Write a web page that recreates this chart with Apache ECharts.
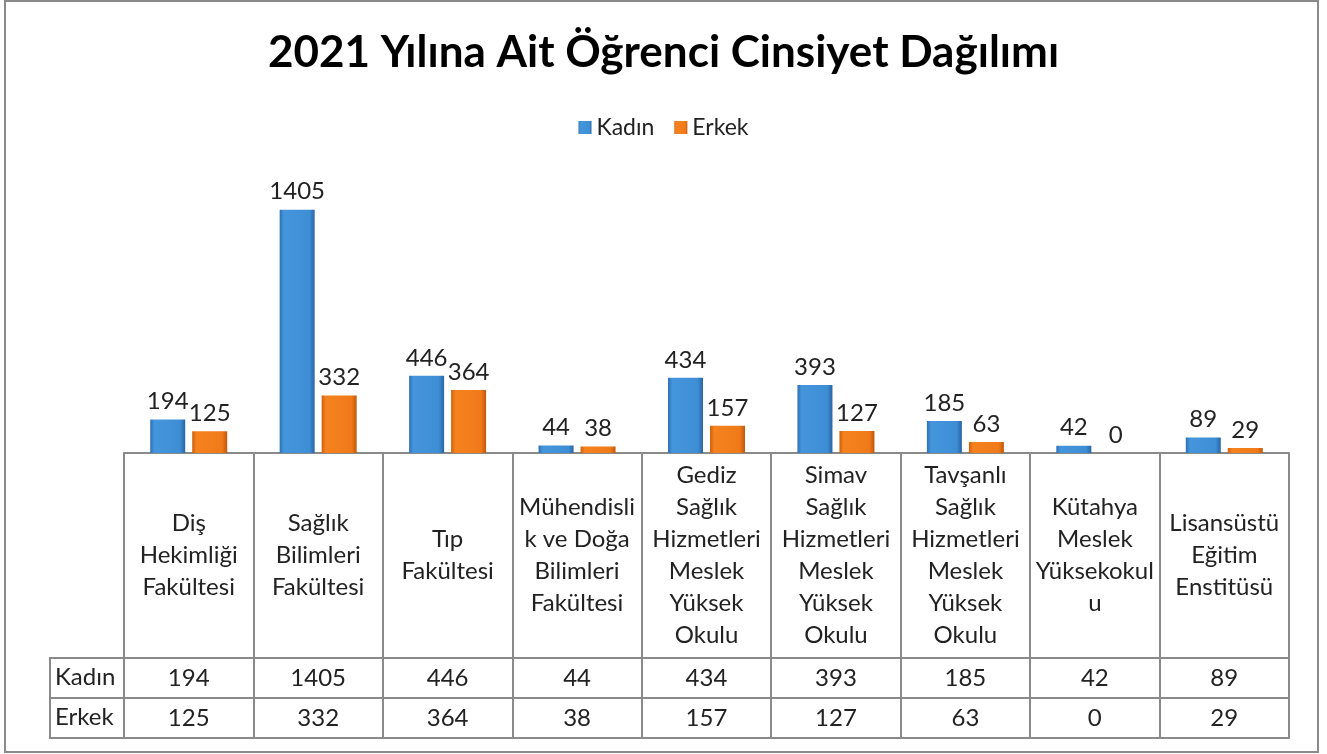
<!DOCTYPE html>
<html>
<head>
<meta charset="utf-8">
<script src="https://cdn.jsdelivr.net/npm/echarts@6/dist/echarts.min.js"></script>
<style>
  html, body { margin: 0; padding: 0; background: #fff; }
  #chart { width: 1327px; height: 754px; }
</style>
</head>
<body>
<div id="chart"></div>
<script>
// categories as wrapped in the table header cells
const categories = [
  'Diş\nHekimliği\nFakültesi',
  'Sağlık\nBilimleri\nFakültesi',
  'Tıp\nFakültesi',
  'Mühendisli\nk ve Doğa\nBilimleri\nFakültesi',
  'Gediz\nSağlık\nHizmetleri\nMeslek\nYüksek\nOkulu',
  'Simav\nSağlık\nHizmetleri\nMeslek\nYüksek\nOkulu',
  'Tavşanlı\nSağlık\nHizmetleri\nMeslek\nYüksek\nOkulu',
  'Kütahya\nMeslek\nYüksekokul\nu',
  'Lisansüstü\nEğitim\nEnstitüsü'
];
const kadin = [194, 1405, 446, 44, 434, 393, 185, 42, 89];
const erkek = [125, 332, 364, 38, 157, 127, 63, 0, 29];
const seriesNames = ['Kadın', 'Erkek'];

const FONT = 'Lato, "Noto Sans", sans-serif';
const LINE = '#8a8a8a';

const chart = echarts.init(document.getElementById('chart'));

// bevelled bar look (approximation of the excel 3d bar)
const blueGrad = new echarts.graphic.LinearGradient(0, 0, 1, 0, [
  { offset: 0, color: '#2f6fb3' },
  { offset: 0.12, color: '#4496dc' },
  { offset: 0.85, color: '#3e8ed6' },
  { offset: 1, color: '#2a64a3' }
]);
const orangeGrad = new echarts.graphic.LinearGradient(0, 0, 1, 0, [
  { offset: 0, color: '#cf600c' },
  { offset: 0.12, color: '#f6821f' },
  { offset: 0.85, color: '#f07a19' },
  { offset: 1, color: '#c2580a' }
]);

const labelStyle = {
  show: true,
  position: 'top',
  distance: 6,
  fontFamily: FONT,
  fontSize: 24,
  color: '#222'
};

const option = {
  backgroundColor: '#fff',
  animation: false,
  title: {
    text: '2021 Yılına Ait Öğrenci Cinsiyet Dağılımı',
    left: 'center',
    top: 26,
    textStyle: { fontFamily: FONT, fontSize: 44, fontWeight: 'bold', color: '#000' }
  },
  legend: {
    data: seriesNames,
    top: 111,
    left: 'center',
    icon: 'rect',
    itemWidth: 13,
    itemHeight: 13,
    itemGap: 20,
    textStyle: { fontFamily: FONT, fontSize: 23, color: '#222' }
  },
  grid: {
    left: 124,
    right: 38,
    top: 176,
    bottom: 301,
    outerBoundsMode: 'none'
  },
  xAxis: [
    {
      type: 'category',
      data: categories,
      position: 'bottom',
      axisLine: { show: true, lineStyle: { color: LINE, width: 2 } },
      axisTick: { show: true, length: 285, lineStyle: { color: LINE, width: 2 } },
      axisLabel: {
        interval: 0,
        margin: 102,
        verticalAlign: 'middle',
        lineHeight: 32,
        fontFamily: FONT,
        fontSize: 24,
        color: '#222'
      }
    },
    {
      type: 'category',
      data: kadin.map(String),
      position: 'bottom',
      offset: 205,
      axisLine: { show: true, lineStyle: { color: LINE, width: 2 } },
      axisTick: { show: false },
      axisLabel: {
        interval: 0, margin: 20, verticalAlign: 'middle',
        fontFamily: FONT, fontSize: 24, color: '#222'
      }
    },
    {
      type: 'category',
      data: erkek.map(String),
      position: 'bottom',
      offset: 245,
      axisLine: { show: true, lineStyle: { color: LINE, width: 2 } },
      axisTick: { show: false },
      axisLabel: {
        interval: 0, margin: 20, verticalAlign: 'middle',
        fontFamily: FONT, fontSize: 24, color: '#222'
      }
    },
    {
      type: 'category',
      data: categories,
      position: 'bottom',
      offset: 285,
      axisLine: { show: true, lineStyle: { color: LINE, width: 2 } },
      axisTick: { show: false },
      axisLabel: { show: false }
    }
  ],
  yAxis: {
    type: 'value',
    min: 0,
    max: 1600,
    show: false,
    splitLine: { show: false }
  },
  series: [
    {
      name: seriesNames[0],
      type: 'bar',
      data: kadin,
      barWidth: 35,
      barGap: '20%',
      itemStyle: { color: blueGrad },
      label: labelStyle
    },
    {
      name: seriesNames[1],
      type: 'bar',
      data: erkek,
      barWidth: 35,
      itemStyle: { color: orangeGrad },
      label: labelStyle
    }
  ],
  graphic: [
    // chart frame
    { type: 'rect', shape: { x: 5, y: 1, width: 1313, height: 751 },
      style: { fill: 'none', stroke: '#8a8a8a', lineWidth: 2 }, silent: true },
    // row-header cells of the data table
    { type: 'line', shape: { x1: 50, y1: 658, x2: 124, y2: 658 }, style: { stroke: LINE, lineWidth: 2 } },
    { type: 'line', shape: { x1: 50, y1: 698, x2: 124, y2: 698 }, style: { stroke: LINE, lineWidth: 2 } },
    { type: 'line', shape: { x1: 50, y1: 738, x2: 124, y2: 738 }, style: { stroke: LINE, lineWidth: 2 } },
    { type: 'line', shape: { x1: 50, y1: 657, x2: 50, y2: 739 }, style: { stroke: LINE, lineWidth: 2 } },
    { type: 'text', left: 55, top: 665,
      style: { text: seriesNames[0], font: '24px ' + FONT, fill: '#222' } },
    { type: 'text', left: 55, top: 705,
      style: { text: seriesNames[1], font: '24px ' + FONT, fill: '#222' } }
  ]
};

chart.setOption(option);
</script>
</body>
</html>
